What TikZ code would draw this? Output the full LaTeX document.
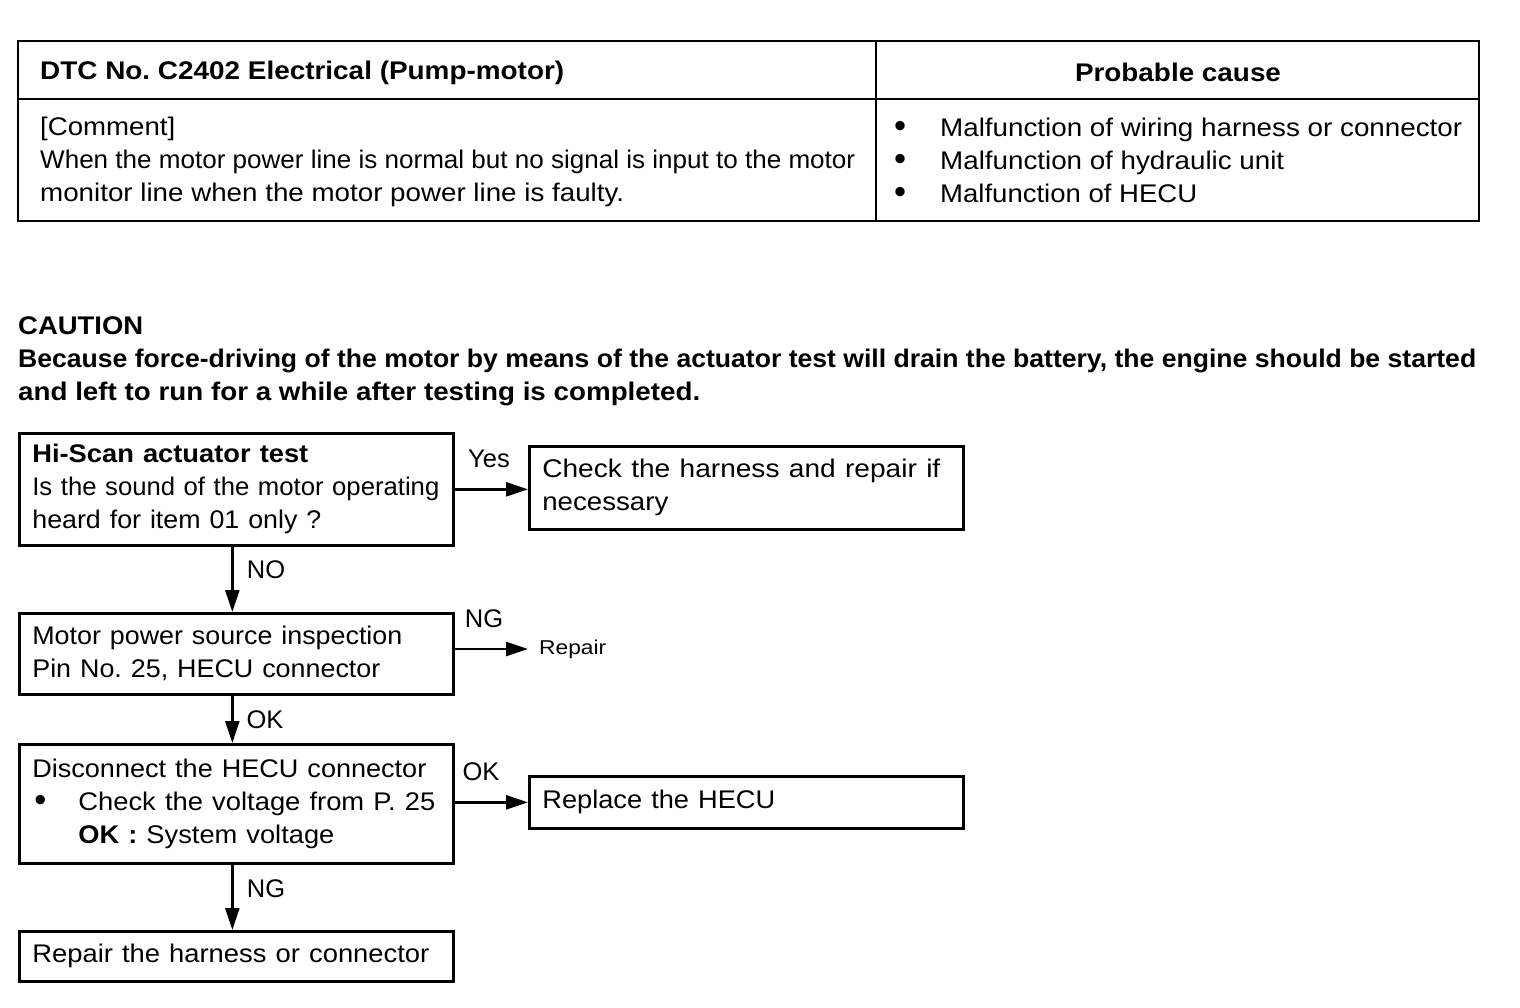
\documentclass[tikz,border=0pt]{standalone}
\usepackage{fontspec}
\usepackage{graphicx}
\setmainfont{Liberation Sans}
\usetikzlibrary{arrows.meta}
\newcommand{\fs}{\fontsize{25.5}{33}\selectfont}
\newcommand{\fsmall}{\fontsize{20}{22}\selectfont}
\newcommand{\W}[2]{\resizebox{#1pt}{\height}{#2}}
\newcommand{\bul}{\raisebox{-1.5pt}{\scalebox{1.35}{\textbullet}}}
\frenchspacing
\begin{document}
\begin{tikzpicture}[x=1pt,y=-1pt,
  box/.style={draw, line width=2.7pt, anchor=north west, inner xsep=13pt, inner ysep=0pt, align=left, font=\fs, text width=408pt},
  arr/.style={-{Triangle[length=22pt,width=14pt]}, line width=2.7pt},
  lbl/.style={font=\fs, inner sep=0pt},
  txt/.style={font=\fs, inner sep=0pt, align=left, anchor=west}]
\useasboundingbox (0,0) rectangle (1520,1008);
% table
\draw[line width=2.8pt] (18,41) rectangle (1479,221);
\draw[line width=2.8pt] (18,99) -- (1479,99);
\draw[line width=2.8pt] (876,41) -- (876,221);
\node[txt] (h1) at (40,73) {\bfseries\W{524}{DTC No. C2402 Electrical (Pump-motor)}};
\node[lbl] (h2) at (1178,72) {\bfseries\W{206}{Probable cause}};
\node[txt] (c1) at (40,162) {\W{135}{[Comment]}\\\W{815}{When the motor power line is normal but no signal is input to the motor}\\\W{584}{monitor line when the motor power line is faulty.}};
\node[txt] (c2) at (894,161) {\makebox[46pt][l]{\bul}\W{522}{Malfunction of wiring harness or connector}\\\makebox[46pt][l]{\bul}\W{344}{Malfunction of hydraulic unit}\\\makebox[46pt][l]{\bul}\W{257}{Malfunction of HECU}};
% caution
\node[txt] (cau) at (18,361) {\bfseries\W{125}{CAUTION}\\\bfseries\W{1458}{Because force-driving of the motor by means of the actuator test will drain the battery, the engine should be started}\\\bfseries\W{682}{and left to run for a while after testing is completed.}};
% flowchart
\node[box, minimum height=112pt] (A) at (18,432) {\textbf{\W{276}{Hi-Scan actuator test}}\\\W{407}{Is the sound of the motor operating}\\\W{289}{heard for item 01 only ?}};
\node[box, minimum height=83pt] (B) at (528,445) {\W{398}{Check the harness and repair if}\\\W{126}{necessary}};
\node[box, minimum height=81pt] (C) at (18,612) {\W{370}{Motor power source inspection}\\\W{348}{Pin No. 25, HECU connector}};
\node[anchor=west, inner xsep=11pt, inner ysep=0pt, font=\fsmall] (R) at (528,649) {\W{67}{Repair}};
\node[box, minimum height=119pt] (D) at (18,743) {\W{394}{Disconnect the HECU connector}\\\makebox[46pt][l]{\hspace{2pt}\bul}\W{357}{Check the voltage from P. 25}\\\hspace*{46pt}\W{256}{\textbf{OK :} System voltage}};
\node[box, minimum height=52pt] (E) at (528,775) {\W{233}{Replace the HECU}};
\node[box, minimum height=50pt] (F) at (18,930) {\W{397}{Repair the harness or connector}};
% connectors
\draw[arr] (A.east) -- (A.east -| B.west);
\draw[arr] ([xshift=-4pt]A.south) -- ([xshift=-4pt]A.south |- C.north);
\draw[arr] (C.east |- R.west) -- (R.west);
\draw[arr] ([xshift=-4pt]C.south) -- ([xshift=-4pt]C.south |- D.north);
\draw[arr] (E.west -| D.east) -- (E.west);
\draw[arr] ([xshift=-4pt]D.south) -- ([xshift=-4pt]D.south |- F.north);
% labels
\node[lbl] (l1) at (489,459) {Yes};
\node[lbl] (l2) at (266,570) {NO};
\node[lbl] (l3) at (484,619) {NG};
\node[lbl] (l4) at (265,720) {OK};
\node[lbl] (l5) at (481,772) {OK};
\node[lbl] (l6) at (266,889) {NG};
\end{tikzpicture}
\end{document}
